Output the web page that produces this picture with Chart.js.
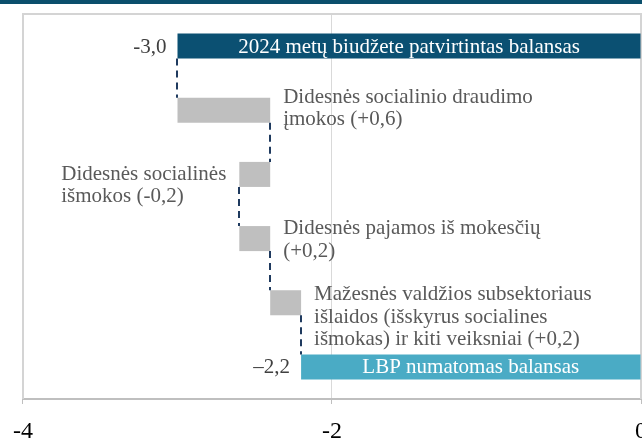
<!DOCTYPE html>
<html lang="lt">
<head>
<meta charset="utf-8">
<title>Valdžios sektoriaus balanso pokyčiai</title>
<script src="https://cdn.jsdelivr.net/npm/chart.js@4/dist/chart.umd.min.js"></script>
<style>
  html, body { margin: 0; padding: 0; background: #fff; overflow: hidden; }
  #wrap { width: 642px; height: 440px; overflow: hidden; }
</style>
</head>
<body>
<div id="wrap"><canvas id="chart" width="680" height="440"></canvas></div>
<script>
// --- duomenys ---
const categoryLines = [
  ['2024 metų biudžete patvirtintas balansas'],
  ['Didesnės socialinio draudimo', 'įmokos (+0,6)'],
  ['Didesnės socialinės', 'išmokos (-0,2)'],
  ['Didesnės pajamos iš mokesčių', '(+0,2)'],
  ['Mažesnės valdžios subsektoriaus', 'išlaidos (išskyrus socialines', 'išmokas) ir kiti veiksniai (+0,2)'],
  ['LBP numatomas balansas'],
];
const startBalance = -3.0;
const changes = [0.6, -0.2, 0.2, 0.2];
const endBalance = -2.2;
const balanceLabels = ['-3,0', '–2,2'];
const xTicks = [-4, -2, 0];

// --- išdėstymas ir spalvos ---
const barColors = ['#0b5072', '#bfbfbf', '#bfbfbf', '#bfbfbf', '#bfbfbf', '#4aabc5'];
const labelPlacement = [
  { side: 'inside' },
  { side: 'right', dy: 5 },
  { side: 'left', dy: 18 },
  { side: 'right', dy: 8 },
  { side: 'right', dy: 10 },
  { side: 'inside' },
];
const FONT = 'Liberation Serif';
const LINE_H = 22.5;

// plaukiojantys stulpeliai: pradžia, pokyčiai, pabaiga
const levels = [startBalance];
const bars = [[startBalance, 0]];
changes.forEach(c => {
  const prev = levels[levels.length - 1];
  const next = Math.round((prev + c) * 10) / 10;
  bars.push([prev, next]);
  levels.push(next);
});
bars.push([endBalance, 0]);

const annotations = {
  id: 'annotations',
  beforeDraw(chart) {
    const ctx = chart.ctx;
    ctx.save();
    ctx.fillStyle = '#0b4f6c';
    ctx.fillRect(0, 0, chart.width, 4);
    ctx.restore();
  },
  beforeDatasetsDraw(chart) {
    const { ctx, chartArea: a } = chart;
    ctx.save();
    ctx.strokeStyle = '#d4d4d4';
    ctx.lineWidth = 2;
    ctx.beginPath();
    ctx.moveTo(a.left, a.bottom);
    ctx.lineTo(a.left, a.top);
    ctx.lineTo(a.right, a.top);
    ctx.lineTo(a.right, a.bottom);
    ctx.stroke();
    ctx.restore();
  },
  afterDatasetsDraw(chart) {
    const ctx = chart.ctx;
    const xs = chart.scales.x;
    const els = chart.getDatasetMeta(0).data;
    ctx.save();

    // jungiamosios punktyrinės linijos
    ctx.strokeStyle = '#1f3a5f';
    ctx.lineWidth = 2;
    ctx.setLineDash([7, 5]);
    levels.forEach((lv, i) => {
      const a = els[i], b = els[i + 1];
      const x = Math.round(xs.getPixelForValue(lv));
      ctx.beginPath();
      ctx.moveTo(x, a.y + a.height / 2);
      ctx.lineTo(x, b.y - b.height / 2);
      ctx.stroke();
    });
    ctx.setLineDash([]);

    // kategorijų užrašai
    ctx.font = '21px "' + FONT + '", serif';
    els.forEach((el, i) => {
      const left = Math.min(el.x, el.base);
      const right = Math.max(el.x, el.base);
      const top = el.y - el.height / 2;
      const lines = categoryLines[i];
      const p = labelPlacement[i];
      if (p.side === 'inside') {
        ctx.fillStyle = '#ffffff';
        ctx.textAlign = 'center';
        ctx.textBaseline = 'middle';
        ctx.fillText(lines[0], (left + right) / 2, el.y + 1);
        return;
      }
      ctx.fillStyle = '#595959';
      ctx.textAlign = 'left';
      ctx.textBaseline = 'alphabetic';
      let x0 = right + 13;
      if (p.side === 'left') {
        const w = Math.max(...lines.map(t => ctx.measureText(t).width));
        x0 = left - 13 - w;
      }
      lines.forEach((t, k) => ctx.fillText(t, x0, top + p.dy + k * LINE_H));
    });

    // balanso reikšmės
    ctx.fillStyle = '#404040';
    ctx.textAlign = 'right';
    ctx.textBaseline = 'middle';
    [0, els.length - 1].forEach((idx, k) => {
      const el = els[idx];
      ctx.fillText(balanceLabels[k], Math.min(el.x, el.base) - 11, el.y + 1);
    });
    ctx.restore();
  }
};

new Chart(document.getElementById('chart'), {
  type: 'bar',
  data: {
    labels: categoryLines,
    datasets: [{
      data: bars,
      backgroundColor: barColors,
      borderWidth: 0,
      barPercentage: 0.39,
      categoryPercentage: 1,
    }],
  },
  options: {
    indexAxis: 'y',
    responsive: false,
    animation: false,
    layout: { padding: { left: 20, top: 14, right: 39, bottom: 0 } },
    plugins: { legend: { display: false }, tooltip: { enabled: false } },
    scales: {
      y: { display: false },
      x: {
        type: 'linear',
        min: -4,
        max: 0,
        afterBuildTicks: s => { s.ticks = xTicks.map(v => ({ value: v })); },
        afterFit: s => { s.height = 41; },
        ticks: {
          font: { family: FONT, size: 24 },
          color: '#000',
          padding: 13,
          callback: v => String(v),
        },
        grid: { color: '#d9d9d9', lineWidth: 1, tickLength: 5, tickColor: '#bfbfbf' },
        border: { color: '#bfbfbf', width: 2 },
      },
    },
  },
  plugins: [annotations],
});
</script>
</body>
</html>
